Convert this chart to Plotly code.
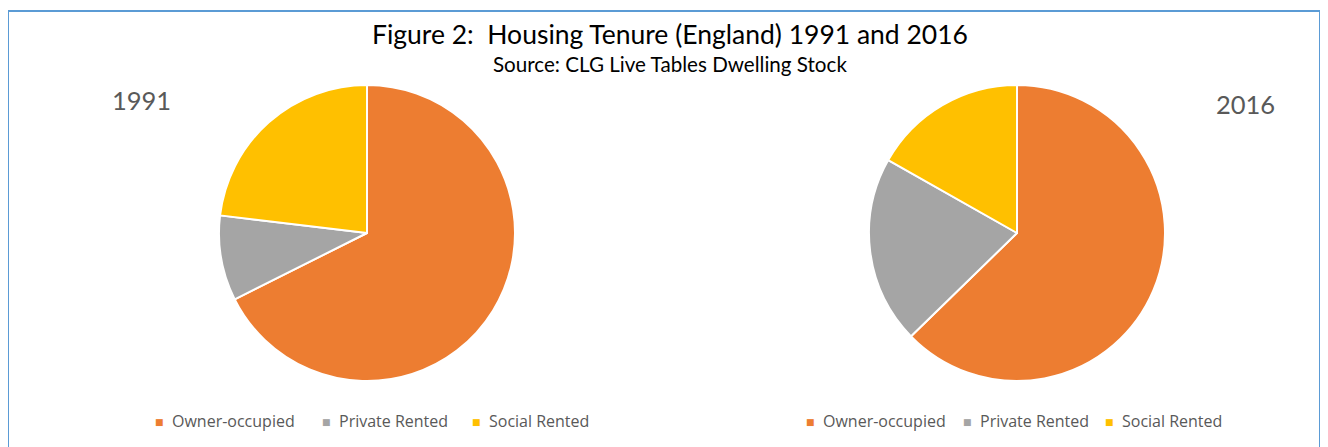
import plotly.graph_objects as go

W, H = 1328, 447

title = "Figure 2:  Housing Tenure (England) 1991 and 2016"
subtitle = "Source: CLG Live Tables Dwelling Stock"
categories = ["Owner-occupied", "Private Rented", "Social Rented"]
years = ["1991", "2016"]
values_1991 = [67.6, 9.3, 23.1]
values_2016 = [62.7, 20.5, 16.8]
colors = ["#ED7D31", "#A5A5A5", "#FFC000"]

FONT = "Lato"
LFONT = "Open Sans"
GREY = "#595959"
OFF = 8  # page body margin


def px_x(x):
    return (x - OFF) / W


def px_y(y):
    return 1 - (y - OFF) / H


R = 148
centers = [(367, 233), (1017, 233)]

fig = go.Figure()
for vals, (cx, cy) in zip([values_1991, values_2016], centers):
    fig.add_trace(go.Pie(
        labels=categories, values=vals, sort=False, direction="clockwise",
        rotation=0, textinfo="none", hoverinfo="label+percent",
        marker=dict(colors=colors, line=dict(color="white", width=2)),
        domain=dict(x=[px_x(cx - R), px_x(cx + R)], y=[px_y(cy + R), px_y(cy - R)]),
        showlegend=False,
    ))

ann = []
ann.append(dict(text=title, x=px_x(670), y=px_y(34), xref="paper", yref="paper",
                showarrow=False, font=dict(family=FONT, size=26.5, color="#000000"),
                xanchor="center", yanchor="middle"))
ann.append(dict(text=subtitle, x=px_x(670), y=px_y(64), xref="paper", yref="paper",
                showarrow=False, font=dict(family=FONT, size=20.6, color="#000000"),
                xanchor="center", yanchor="middle"))
ann.append(dict(text=years[0], x=px_x(141), y=px_y(100), xref="paper", yref="paper",
                showarrow=False, font=dict(family=FONT, size=25.5, color=GREY),
                xanchor="center", yanchor="middle"))
ann.append(dict(text=years[1], x=px_x(1245), y=px_y(104), xref="paper", yref="paper",
                showarrow=False, font=dict(family=FONT, size=25.5, color=GREY),
                xanchor="center", yanchor="middle"))

legend_sq_x = [[159, 326, 476], [810, 967, 1109]]
for row in legend_sq_x:
    for cat, col, sx in zip(categories, colors, row):
        ann.append(dict(text="■", x=px_x(sx), y=px_y(422), xref="paper", yref="paper",
                        showarrow=False, font=dict(family="DejaVu Sans", size=9, color=col),
                        xanchor="center", yanchor="middle"))
        ann.append(dict(text=cat, x=px_x(sx + 11), y=px_y(421), xref="paper", yref="paper",
                        showarrow=False, font=dict(family=LFONT, size=16, color=GREY),
                        xanchor="left", yanchor="middle"))

fig.update_layout(
    width=W, height=H,
    margin=dict(l=0, r=0, t=0, b=0),
    paper_bgcolor="white", plot_bgcolor="white",
    annotations=ann,
    shapes=[dict(type="rect", xref="paper", yref="paper",
                 x0=px_x(8), x1=px_x(1320), y0=px_y(480), y1=px_y(11),
                 line=dict(color="#5B9BD5", width=2), fillcolor="rgba(0,0,0,0)")],
)

fig.write_html("out.html")
